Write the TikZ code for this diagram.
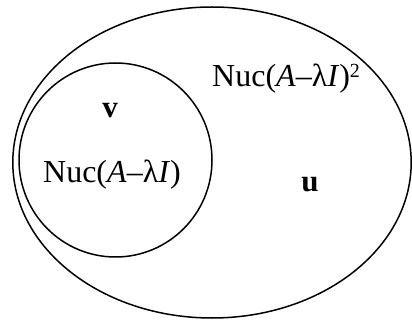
\documentclass[tikz,border=0pt]{standalone}
\usepackage{fontspec}
\setmainfont{Liberation Serif}
\begin{document}
\begin{tikzpicture}[x=1pt,y=-1pt,
  setline/.style={draw=black,line width=1.5pt},
  lbl/.style={inner sep=0pt,font=\fontsize{32}{32}\selectfont},
  vec/.style={inner sep=0pt,font=\fontsize{31}{31}\selectfont\bfseries}]
\useasboundingbox (0,0) rectangle (412,320);
\draw[setline] (212,162.5) ellipse [x radius=199.2, y radius=155.5];
\draw[setline] (115.5,160) ellipse [x radius=96.5, y radius=97];
\node[lbl,anchor=base west] (outer) at (212,87) {Nuc(\textit{A}–λ\textit{I})\raisebox{9.5pt}{\fontsize{20}{20}\selectfont 2}};
\node[lbl,anchor=base] (inner) at (112,183) {Nuc(\textit{A}–λ\textit{I})};
\node[vec,anchor=base] (v) at (110,118) {v};
\node[vec,anchor=base] (u) at (310,192) {u};
\end{tikzpicture}
\end{document}
